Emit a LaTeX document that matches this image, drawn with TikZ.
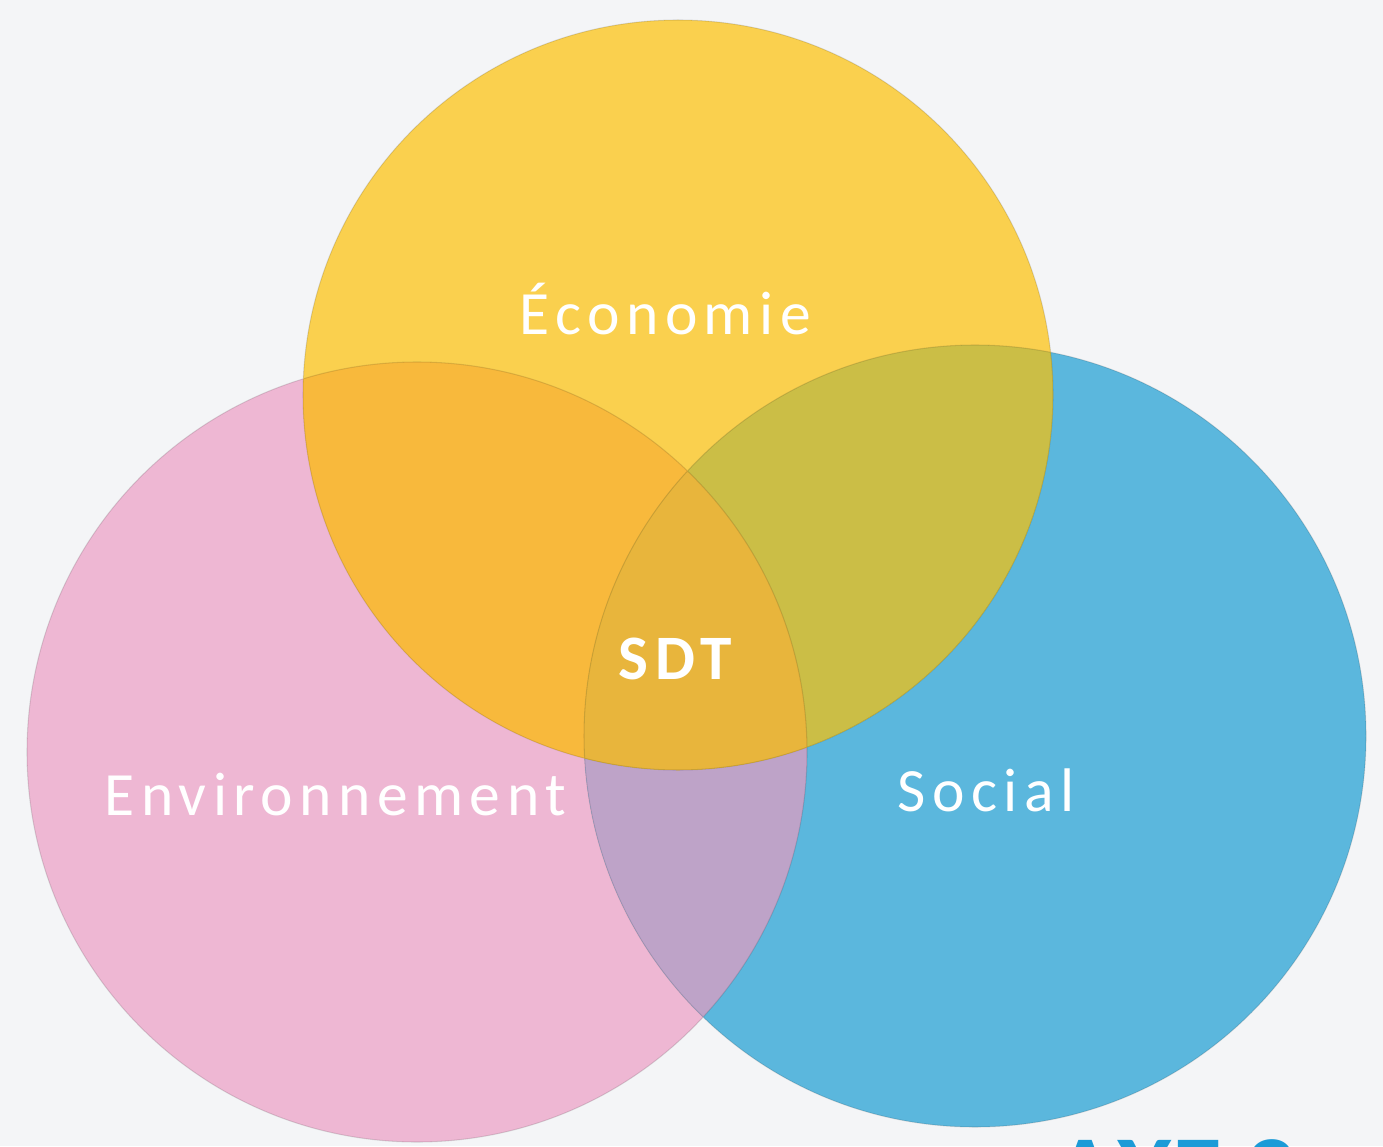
\documentclass[tikz,border=0pt]{standalone}
\usepackage{fontspec}
\setmainfont{Carlito}
\newfontfamily\lblfont{Carlito}[LetterSpace=10.5]
\definecolor{bgc}{HTML}{F4F5F7}
\definecolor{ecoc}{HTML}{FAD04E}
\definecolor{envc}{HTML}{EEB7D3}
\definecolor{socc}{HTML}{5BB7DD}
\definecolor{envsoc}{HTML}{BEA3C8}
\definecolor{ecoenv}{HTML}{F8B93C}
\definecolor{ecosoc}{HTML}{CBBE46}
\definecolor{allc}{HTML}{E8B53C}
\definecolor{axec}{HTML}{1B9BD7}
\tikzset{
  edge/.style={draw=black, draw opacity=0.12, line width=0.3pt},
  lbl/.style={text=white, inner sep=0pt, anchor=base west, font=\lblfont\fontsize{17.5}{20}\selectfont},
}
\begin{document}
\begin{tikzpicture}[x=0.01cm,y=-0.01cm]
  \fill[bgc] (0,0) rectangle (1383,1146);
  \useasboundingbox (0,0) rectangle (1383,1146);

  \coordinate (E) at (678,395);
  \coordinate (V) at (417,752);
  \coordinate (S) at (975,736);
  \def\re{375}
  \def\rv{390}
  \def\rs{391}

  % the three sets and their overlaps
  \fill[envc] (V) circle[radius=\rv];
  \fill[socc] (S) circle[radius=\rs];
  \begin{scope}
    \clip (V) circle[radius=\rv];
    \fill[envsoc] (S) circle[radius=\rs];
  \end{scope}
  \fill[ecoc] (E) circle[radius=\re];
  \begin{scope}
    \clip (E) circle[radius=\re];
    \fill[ecoenv] (V) circle[radius=\rv];
    \fill[ecosoc] (S) circle[radius=\rs];
    \clip (V) circle[radius=\rv];
    \fill[allc] (S) circle[radius=\rs];
  \end{scope}
  \path[edge] (V) circle[radius=\rv] (S) circle[radius=\rs] (E) circle[radius=\re];

  \node[lbl] (eco) at (519,334) {Économie};
  \node[lbl] (env) at (104,815) {Environnement};
  \node[lbl] (soc) at (897,811) {Social};
  \node[lbl, font=\bfseries\lblfont\fontsize{18}{20}\selectfont] (sdt) at (618,679) {SDT};
  %\node (axe) ...
  \node[inner sep=0pt, anchor=base west, text=axec, font=\bfseries\fontsize{29}{34}\selectfont] (axe) at (1054,1206) {AXE 2};
\end{tikzpicture}
\end{document}
